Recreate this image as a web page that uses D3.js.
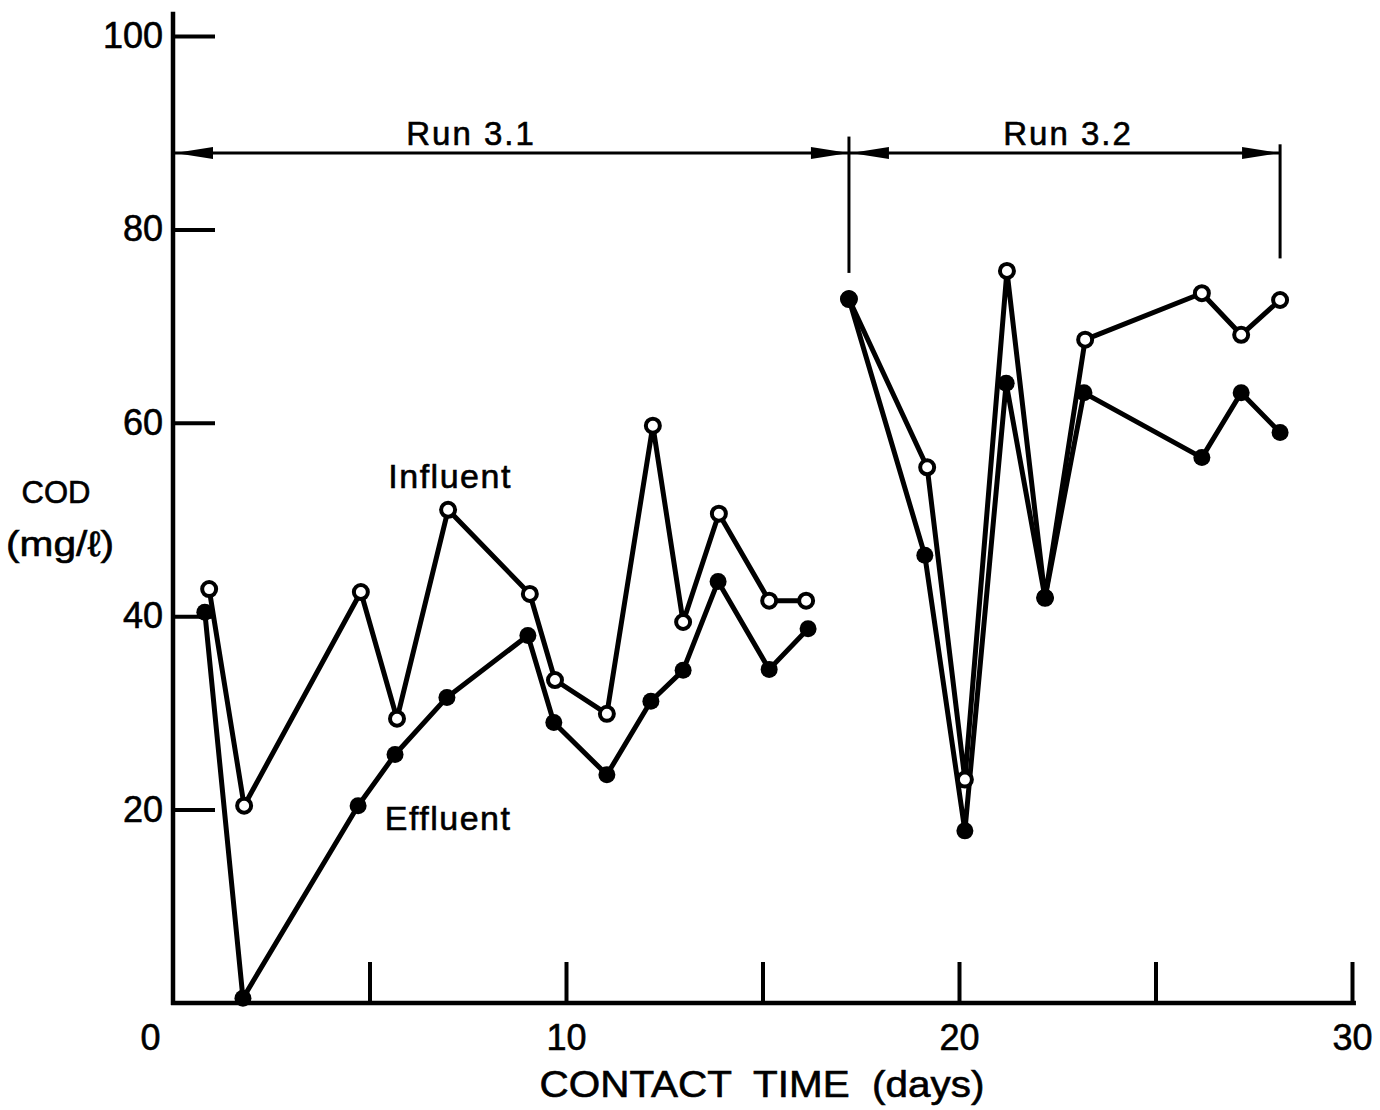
<!DOCTYPE html>
<html>
<head>
<meta charset="utf-8">
<script src="https://cdn.jsdelivr.net/npm/d3@7/dist/d3.min.js"></script>
<style>
  body { margin: 0; background: #fff; }
  svg { display: block; font-family: "Liberation Sans", Arial, sans-serif; }
  svg text { stroke: #000; stroke-width: 0.6px; }
</style>
</head>
<body>
<div id="chart"></div>
<script>
// Run 3.1 values
const inflDays31 = [0.92, 1.81, 4.78, 5.70, 7.00, 9.08, 9.72, 11.04, 12.21, 12.98, 13.89, 15.17, 16.11];
const inflCod31 = [42.8, 20.4, 42.5, 29.4, 51.0, 42.3, 33.4, 29.9, 59.7, 39.4, 50.6, 41.6, 41.6];
const efflDays31 = [0.81, 1.78, 4.71, 5.65, 6.97, 9.03, 9.69, 11.04, 12.16, 12.98, 13.87, 15.17, 16.16];
const efflCod31 = [40.4, 0.5, 20.4, 25.7, 31.6, 38.0, 29.0, 23.6, 31.2, 34.4, 43.6, 34.5, 38.7];

// Run 3.2 values
const inflDays32 = [17.2, 19.19, 20.15, 21.22, 22.19, 23.21, 26.18, 27.18, 28.17];
const inflCod32 = [72.8, 55.4, 23.1, 75.7, 41.9, 68.6, 73.4, 69.1, 72.7];
const efflDays32 = [17.2, 19.13, 20.15, 21.20, 22.19, 23.18, 26.18, 27.18, 28.17];
const efflCod32 = [72.8, 46.3, 17.8, 64.1, 41.9, 63.1, 56.4, 63.1, 59.0];

const xTicks = [0, 5, 10, 15, 20, 25, 30];
const xTickLabels = ["0", "", "10", "", "20", "", "30"];
const yTicks = [20, 40, 60, 80, 100];

// run brackets (days) and where they sit (COD units)
const runLabels = ["Run 3.1", "Run 3.2"];
const runStart = [0, 17.2];
const runEnd = [17.2, 28.17];
const bracketCod = 87.9;

const w = 1380, h = 1110;
const space = { top: 36, right: 28, bottom: 107, left: 173 };

const svg = d3.select('#chart')
  .append('svg')
  .attr('width', w)
  .attr('height', h);

const xScale = d3.scaleLinear()
  .domain([0, 30])
  .range([space.left, w - space.right]);

const yScale = d3.scaleLinear()
  .domain([0, 100])
  .range([h - space.bottom, space.top]);

const zip = (a, b) => a.map((d, i) => ({ day: d, cod: b[i] }));
const influent = [zip(inflDays31, inflCod31), zip(inflDays32, inflCod32)];
const effluent = [zip(efflDays31, efflCod31), zip(efflDays32, efflCod32)];

// axes lines
svg.append('line')
  .attr('x1', xScale(0)).attr('x2', xScale(0))
  .attr('y1', yScale(102.5)).attr('y2', yScale(0) + 2)
  .attr('stroke', '#000').attr('stroke-width', 4.5);
svg.append('line')
  .attr('x1', xScale(0) - 2).attr('x2', xScale(30.1))
  .attr('y1', yScale(0)).attr('y2', yScale(0))
  .attr('stroke', '#000').attr('stroke-width', 4.5);

const xAxis = d3.axisBottom(xScale)
  .tickValues(xTicks)
  .tickFormat((d, i) => xTickLabels[i])
  .tickSize(-41)
  .tickPadding(21);

const yAxis = d3.axisLeft(yScale)
  .tickValues(yTicks)
  .tickSize(-42)
  .tickPadding(10);

const gx = svg.append('g')
  .attr('id', 'x-axis')
  .attr('transform', `translate(0, ${yScale(0)})`)
  .call(xAxis);
const gy = svg.append('g')
  .attr('id', 'y-axis')
  .attr('transform', `translate(${xScale(0)}, 0)`)
  .call(yAxis);

[gx, gy].forEach(g => {
  g.select('.domain').remove();
  g.selectAll('.tick line').attr('stroke', '#000').attr('stroke-width', 4);
  g.selectAll('.tick text')
    .attr('fill', '#000')
    .style('font-size', '36px')
    .style('font-family', '"Liberation Sans", Arial, sans-serif');
});
gx.selectAll('.tick text').filter(d => d === 0).attr('dx', -23);
gx.selectAll('.tick line').filter(d => d === 0).remove();

// axis titles
svg.append('text')
  .text('CONTACT  TIME  (days)')
  .attr('x', 762)
  .attr('y', 1097)
  .attr('text-anchor', 'middle')
  .attr('textLength', 445)
  .attr('lengthAdjust', 'spacingAndGlyphs')
  .style('white-space', 'pre')
  .style('font-size', '37px');

svg.append('text')
  .text('COD')
  .attr('x', 56)
  .attr('y', 503)
  .attr('text-anchor', 'middle')
  .style('font-size', '31px');
svg.append('text')
  .text('(mg/\u2113)')
  .attr('x', 60)
  .attr('y', 556)
  .attr('text-anchor', 'middle')
  .attr('textLength', 108)
  .attr('lengthAdjust', 'spacingAndGlyphs')
  .style('font-size', '35px');

// run brackets
const arrow = (tipX, y, dir) => {
  const len = 38, half = 6;
  return `M${tipX},${y} L${tipX - dir * len},${y - half} L${tipX - dir * len},${y + half} Z`;
};
const bracket = svg.append('g').attr('class', 'runs');
const by = yScale(bracketCod);

bracket.append('line')
  .attr('x1', xScale(runStart[0])).attr('x2', xScale(runEnd[1]))
  .attr('y1', by).attr('y2', by)
  .attr('stroke', '#000').attr('stroke-width', 3);

runLabels.forEach((label, i) => {
  const x0 = xScale(runStart[i]), x1 = xScale(runEnd[i]);
  bracket.append('path').attr('d', arrow(x0 + 2, by, -1)).attr('fill', '#000');
  bracket.append('path').attr('d', arrow(x1, by, 1)).attr('fill', '#000');
  bracket.append('text')
    .text(label)
    .attr('x', i === 0 ? 471 : 1068)
    .attr('y', by - 8)
    .attr('text-anchor', 'middle')
    .style('letter-spacing', '2px')
    .style('white-space', 'pre')
    .style('font-size', '33px');
});

// vertical markers of run limits
bracket.append('line')
  .attr('x1', xScale(runEnd[0])).attr('x2', xScale(runEnd[0]))
  .attr('y1', yScale(89.6)).attr('y2', yScale(75.5))
  .attr('stroke', '#000').attr('stroke-width', 3);
bracket.append('line')
  .attr('x1', xScale(runEnd[1])).attr('x2', xScale(runEnd[1]))
  .attr('y1', yScale(88.8)).attr('y2', yScale(77))
  .attr('stroke', '#000').attr('stroke-width', 3);

// series lines
const line = d3.line()
  .x(d => xScale(d.day))
  .y(d => yScale(d.cod));

const plot = svg.append('g').attr('class', 'plot');

influent.concat(effluent).forEach(run => {
  plot.append('path')
    .datum(run)
    .attr('d', line)
    .attr('fill', 'none')
    .attr('stroke', '#000')
    .attr('stroke-width', 5)
    .attr('stroke-linejoin', 'round');
});

// markers: open = influent, filled = effluent
plot.selectAll('.infl')
  .data(influent.flat())
  .enter()
  .append('circle')
  .attr('class', 'infl')
  .attr('cx', d => xScale(d.day))
  .attr('cy', d => yScale(d.cod))
  .attr('r', 7)
  .attr('fill', '#fff')
  .attr('stroke', '#000')
  .attr('stroke-width', 4);

plot.selectAll('.effl')
  .data(effluent.flat())
  .enter()
  .append('circle')
  .attr('class', 'effl')
  .attr('cx', d => xScale(d.day))
  .attr('cy', d => yScale(d.cod))
  .attr('r', 8.5)
  .attr('fill', '#000');

// series labels
svg.append('text')
  .text('Influent')
  .attr('x', xScale(7.05))
  .attr('y', yScale(53.3))
  .attr('text-anchor', 'middle')
  .style('letter-spacing', '1.5px')
  .style('font-size', '34px');
svg.append('text')
  .text('Effluent')
  .attr('x', xScale(7.0))
  .attr('y', yScale(17.9))
  .attr('text-anchor', 'middle')
  .style('letter-spacing', '1.5px')
  .style('font-size', '34px');
</script>
</body>
</html>
